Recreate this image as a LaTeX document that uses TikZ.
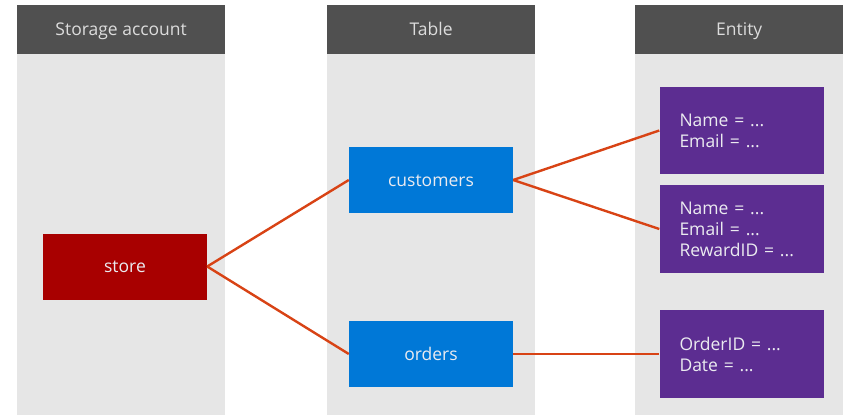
\documentclass[tikz,border=0pt]{standalone}
\usepackage{fontspec}
\setmainfont{Open Sans}
\definecolor{hdrgray}{RGB}{80,80,80}
\definecolor{hdrtext}{RGB}{220,220,220}
\definecolor{panelgray}{RGB}{230,230,230}
\definecolor{storered}{RGB}{168,0,0}
\definecolor{tableblue}{RGB}{0,120,215}
\definecolor{entitypurple}{RGB}{92,45,145}
\definecolor{linkorange}{RGB}{216,67,21}
\definecolor{boxtext}{RGB}{235,235,240}
\begin{document}
\begin{tikzpicture}[x=1pt,y=-1pt,
  header/.style={fill=hdrgray, text=hdrtext, minimum width=208pt, minimum height=49pt,
    inner sep=0pt, anchor=north west, text height=12.5pt, text depth=-1pt,
    font=\fontsize{17.5}{21}\selectfont},
  panel/.style={fill=panelgray, minimum width=208pt, minimum height=361pt,
    inner sep=0pt, anchor=north west},
  itembox/.style={minimum width=164pt, minimum height=66pt, inner sep=0pt,
    text=boxtext, text height=12.5pt, text depth=0pt,
    font=\fontsize{17.5}{21}\selectfont},
  entitybox/.style={fill=entitypurple, text=boxtext, text width=124pt,
    inner xsep=20pt, inner ysep=0pt, align=left,
    font=\fontsize{17.5}{21}\selectfont},
  link/.style={draw=linkorange, line width=2.4pt}]
\useasboundingbox (0,0) rectangle (848,415);

% column panels and headers
\node[panel] (p1) at (17,54) {};
\node[panel] (p2) at (327,54) {};
\node[panel] (p3) at (635,54) {};
\node[header] (h1) at (17,5) {Storage account};
\node[header] (h2) at (327,5) {Table};
\node[header] (h3) at (635,5) {Entity};

% storage account and tables
\node[itembox, fill=storered] (store) at (125,266.5) {store};
\node[itembox, fill=tableblue] (customers) at (431,180) {customers};
\node[itembox, fill=tableblue] (orders) at (431,354) {orders};

% entities
\node[entitybox, minimum height=87pt] (e1) at (741.5,130.5) {Name = ...\\Email = ...};
\node[entitybox, minimum height=88pt] (e2) at (741.5,229) {Name = ...\\Email = ...\\RewardID = ...};
\node[entitybox, minimum height=88pt] (e3) at (741.5,354) {OrderID = ...\\Date = ...};

% relationships
\draw[link] (store.east) -- (customers.west);
\draw[link] (store.east) -- (orders.west);
\draw[link] (customers.east) -- (e1.west);
\draw[link] (customers.east) -- (e2.west);
\draw[link] (orders.east) -- (e3.west);
\end{tikzpicture}
\end{document}
